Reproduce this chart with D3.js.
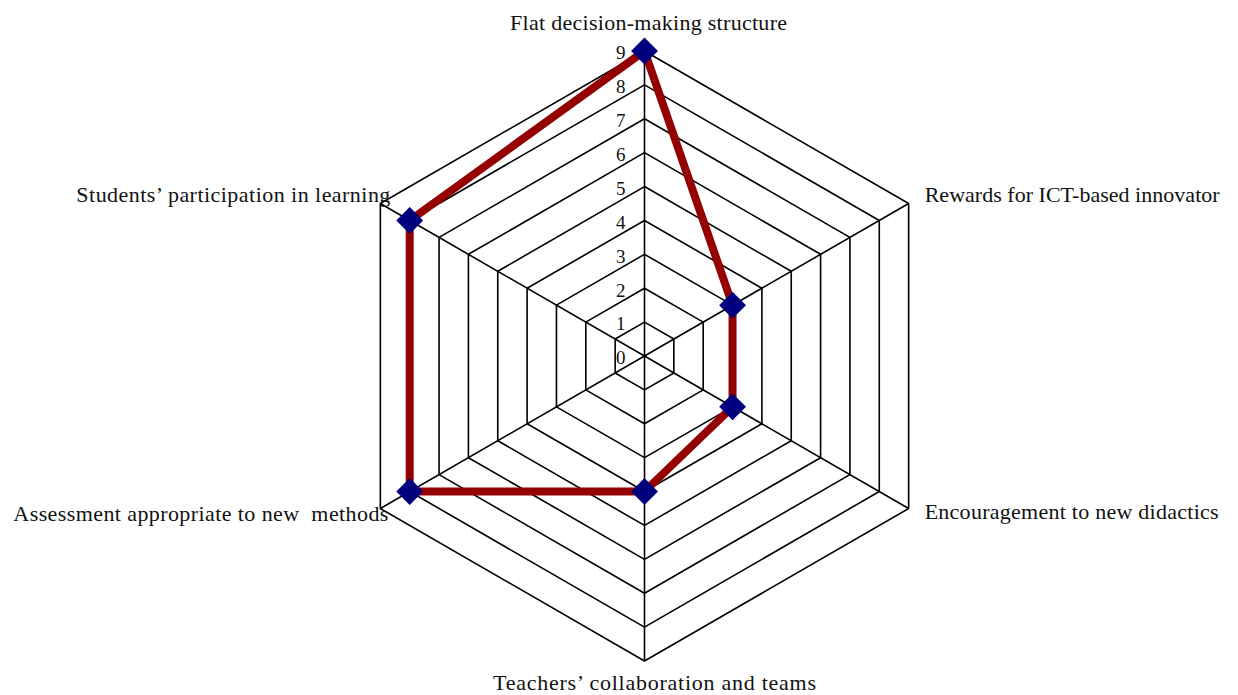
<!DOCTYPE html>
<html>
<head>
<meta charset="utf-8">
<script src="https://cdn.jsdelivr.net/npm/d3@7"></script>
<style>
  html, body { margin: 0; padding: 0; background: #fff; }
  svg { display: block; }
  text { font-family: "Liberation Serif", "Times New Roman", serif; fill: #111; white-space: pre; }
</style>
</head>
<body>
<div id="chart"></div>
<script>
const categories = [
  'Flat decision-making structure',
  'Rewards for ICT-based innovator',
  'Encouragement to new didactics',
  'Teachers\u2019 collaboration and teams',
  'Assessment appropriate to new  methods',
  'Students\u2019 participation in learning'
];
const values = [9, 3, 3, 4, 8, 8];
const ticks = [0, 1, 2, 3, 4, 5, 6, 7, 8, 9];

const width = 1238, height = 695;
const cx = 644.5, cy = 356, outer = 305;

const svg = d3.select('#chart').append('svg')
  .attr('width', width)
  .attr('height', height);

const r = d3.scaleLinear().domain([0, 9]).range([0, outer]);
const angle = d3.scaleLinear().domain([0, categories.length]).range([0, 2 * Math.PI]);

const pt = (i, v) => [cx + r(v) * Math.sin(angle(i)), cy - r(v) * Math.cos(angle(i))];

const g = svg.append('g');

// rings
const ring = d3.line().curve(d3.curveLinearClosed);
g.selectAll('.ring')
  .data(ticks.filter(t => t > 0))
  .enter().append('path')
  .attr('class', 'ring')
  .attr('d', t => ring(categories.map((c, i) => pt(i, t))))
  .attr('fill', 'none')
  .attr('stroke', '#000')
  .attr('stroke-width', 1.6);

// spokes
g.selectAll('.spoke')
  .data(categories)
  .enter().append('line')
  .attr('x1', cx).attr('y1', cy)
  .attr('x2', (c, i) => pt(i, 9)[0])
  .attr('y2', (c, i) => pt(i, 9)[1])
  .attr('stroke', '#000')
  .attr('stroke-width', 1.6);

// tick labels
g.selectAll('.tick')
  .data(ticks)
  .enter().append('text')
  .attr('x', cx - 19)
  .attr('y', t => cy - r(t) + 4)
  .attr('text-anchor', 'end')
  .attr('font-size', 19)
  .attr('dominant-baseline', 'middle')
  .text(t => t);

// category labels (widths tuned to the original rendering)
const labelPos = [
  { dx: 4, dy: -21, anchor: 'middle', w: 277 },
  { dx: 16, dy: -1.5, anchor: 'start', w: 295 },
  { dx: 16, dy: 10.5, anchor: 'start', w: 294 },
  { dx: 10, dy: 29, anchor: 'middle', w: 323 },
  { dx: 8, dy: 12, anchor: 'end', w: 375 },
  { dx: 10, dy: -1.5, anchor: 'end', w: 314 }
];
g.selectAll('.cat')
  .data(categories)
  .enter().append('text')
  .attr('x', (c, i) => pt(i, 9)[0] + labelPos[i].dx)
  .attr('y', (c, i) => pt(i, 9)[1] + labelPos[i].dy)
  .attr('text-anchor', (c, i) => labelPos[i].anchor)
  .attr('font-size', 22)
  .attr('textLength', (c, i) => labelPos[i].w)
  .attr('lengthAdjust', 'spacing')
  .text(c => c);

// series
g.append('path')
  .attr('d', ring(values.map((v, i) => pt(i, v))))
  .attr('fill', 'none')
  .attr('stroke', '#950000')
  .attr('stroke-width', 8)
  .attr('stroke-linejoin', 'miter');

g.selectAll('.marker')
  .data(values)
  .enter().append('path')
  .attr('d', d3.symbol().type(d3.symbolSquare).size(19 * 19))
  .attr('transform', (v, i) => `translate(${pt(i, v)[0]},${pt(i, v)[1]}) rotate(45)`)
  .attr('fill', '#00007f');
</script>
</body>
</html>
